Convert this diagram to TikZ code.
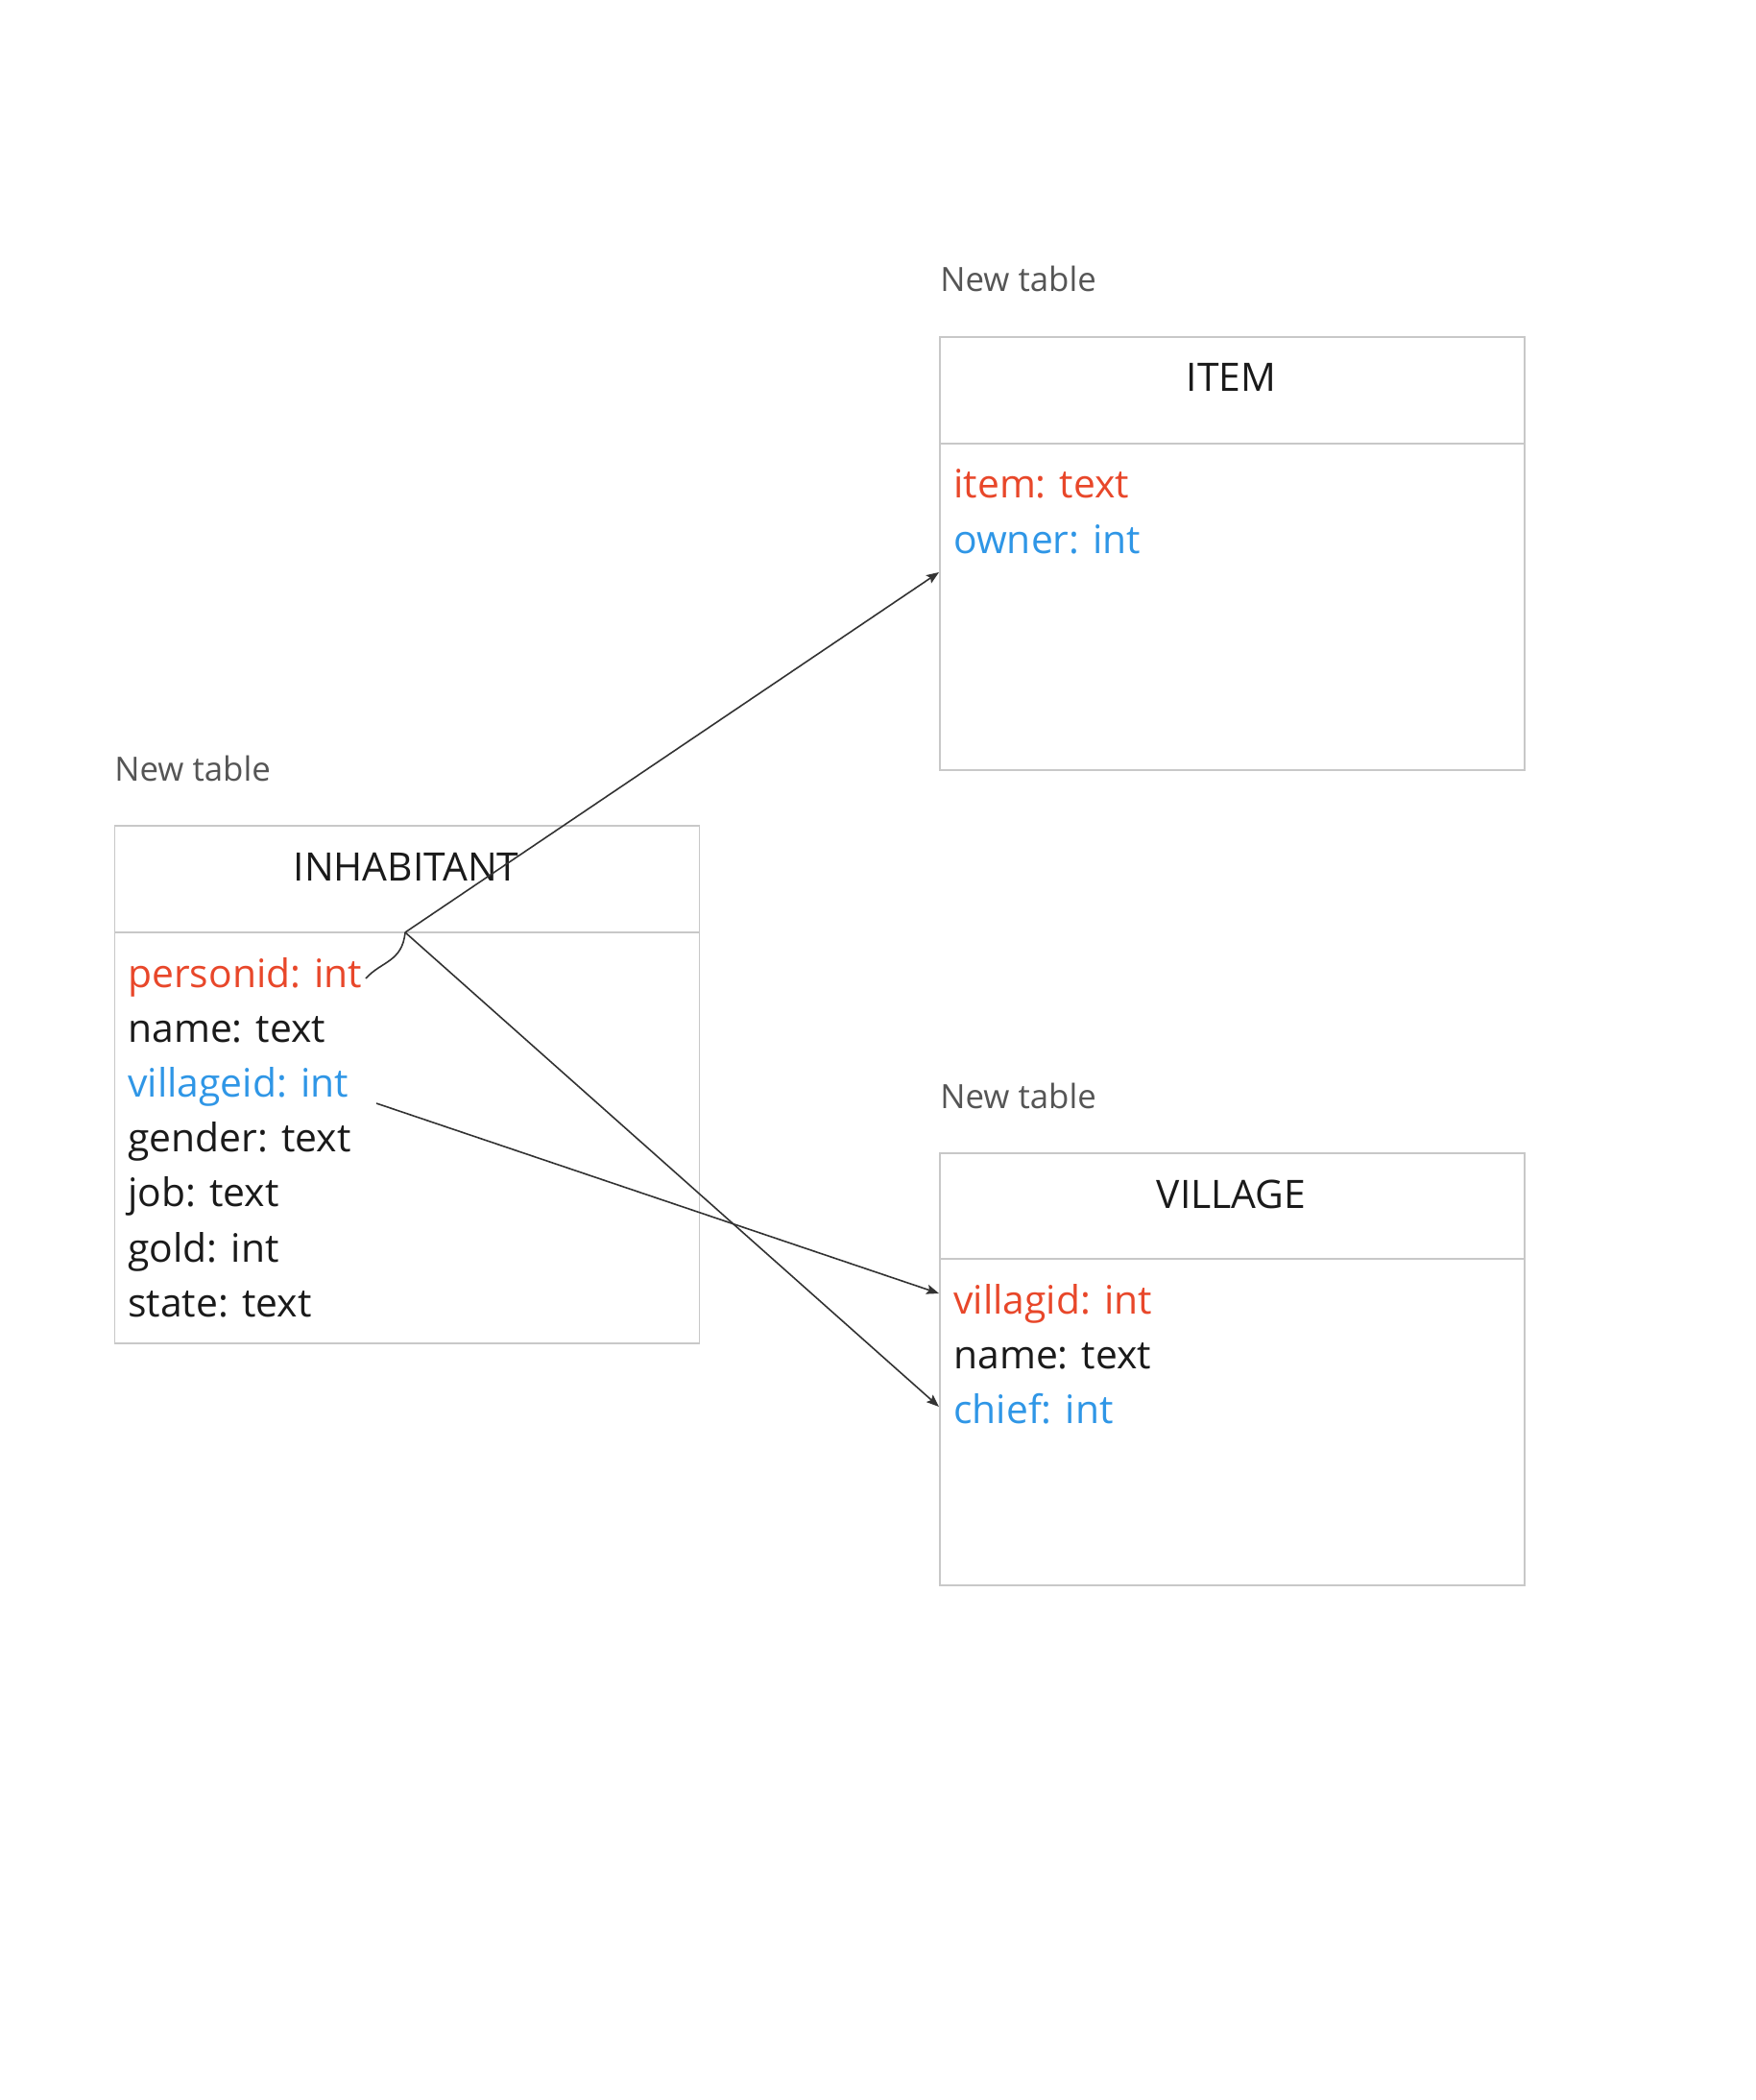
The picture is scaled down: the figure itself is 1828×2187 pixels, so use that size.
\documentclass[tikz,border=0pt]{standalone}
\usepackage{fontspec}
\setmainfont{Open Sans}
\usetikzlibrary{arrows.meta}
\definecolor{pkred}{HTML}{E8472A}
\definecolor{fkblue}{HTML}{2F96E6}
\definecolor{txtblack}{HTML}{1A1A1A}
\definecolor{boxgrey}{HTML}{C8C8C8}
\definecolor{labelgrey}{HTML}{555555}
\definecolor{linegrey}{HTML}{333333}
\begin{document}
\begin{tikzpicture}[x=0.5pt,y=-0.5pt,
  tablebox/.style={draw=boxgrey,line width=0.9pt,anchor=north west,minimum width=304.5pt,inner sep=0pt},
  divider/.style={draw=boxgrey,line width=0.9pt},
  tabletitle/.style={anchor=base,inner sep=0pt,font=\fontsize{20.4}{24}\selectfont,text=txtblack},
  fieldtext/.style={anchor=base west,inner sep=0pt,font=\fontsize{20.4}{24}\selectfont,text=txtblack},
  pkfield/.style={fieldtext,text=pkred},
  fkfield/.style={fieldtext,text=fkblue},
  newlabel/.style={anchor=base west,inner sep=0pt,font=\fontsize{17.4}{21}\selectfont,text=labelgrey},
  conn/.style={draw=linegrey,line width=0.8pt},
  connarrow/.style={conn,-{Stealth[length=6.5pt,width=5pt,inset=1.2pt]}}
]
\useasboundingbox (0,0) rectangle (1828,2187);

% INHABITANT
\node[newlabel] (inhlabel) at (119,813) {New table};
\node[tablebox,minimum height=269.5pt] (inh) at (118.5,859) {};
\draw[divider] (118.5,971) -- (727.5,971);
\node[tabletitle] (inhtitle) at (423,917) {INHABITANT};
\node[pkfield] (inhpid) at (133,1028) {personid: int};
\node[fieldtext] (inhname) at (133,1085.2) {name: text};
\node[fkfield] (inhvid) at (133,1142.4) {villageid: int};
\node[fieldtext] (inhgender) at (133,1199.6) {gender: text};
\node[fieldtext] (inhjob) at (133,1256.8) {job: text};
\node[fieldtext] (inhgold) at (133,1314) {gold: int};
\node[fieldtext] (inhstate) at (133,1371.2) {state: text};

% ITEM
\node[newlabel] (itemlabel) at (979,304) {New table};
\node[tablebox,minimum height=225.5pt] (item) at (978,350) {};
\draw[divider] (978,462) -- (1587,462);
\node[tabletitle] (itemtitle) at (1282.5,408) {ITEM};
\node[pkfield] (itemitem) at (993,519) {item: text};
\node[fkfield] (itemowner) at (993,576.5) {owner: int};

% VILLAGE
\node[newlabel] (villlabel) at (979,1154) {New table};
\node[tablebox,minimum height=225pt] (vill) at (978,1200) {};
\draw[divider] (978,1311) -- (1587,1311);
\node[tabletitle] (villtitle) at (1282.5,1258) {VILLAGE};
\node[pkfield] (villvid) at (993,1368) {villagid: int};
\node[fieldtext] (villname) at (993,1425.2) {name: text};
\node[fkfield] (villchief) at (993,1482.4) {chief: int};

% connector end points
\coordinate (pidend) at (381,1019);
\coordinate (junction) at (422,971);
\coordinate (itemin) at (978,596);
\coordinate (chiefin) at (978,1465);
\coordinate (vidstart) at (392,1149);
\coordinate (villvidin) at (978,1347);

\draw[conn] (pidend) .. controls (397,1001) and (419,1002) .. (junction);
\draw[connarrow] (junction) -- (itemin);
\draw[connarrow] (junction) -- (chiefin);
\draw[connarrow] (vidstart) -- (villvidin);
\end{tikzpicture}
\end{document}
